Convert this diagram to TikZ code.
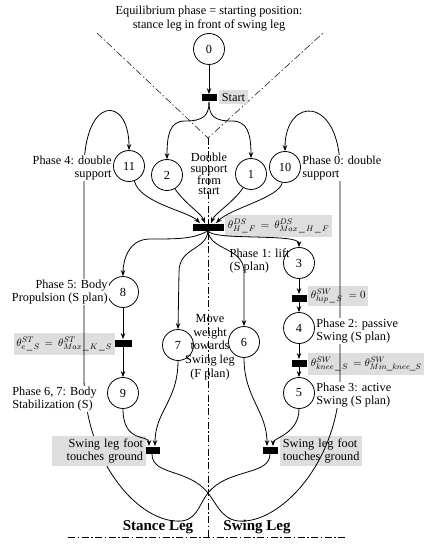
\documentclass[tikz,border=0pt]{standalone}
\usepackage{fontspec}
\setmainfont{Liberation Serif}
\usetikzlibrary{arrows.meta,positioning}
\newcommand*{\lblfont}{\fontsize{12.3}{13}\selectfont}
\newcommand*{\eqfont}{\fontsize{11}{12}\selectfont}

\begin{document}
\begin{tikzpicture}[
        x=1pt,y=-1pt,on grid,>={Stealth[length=6pt,width=4.5pt]},
        font=\lblfont, line width=0.8pt,
        place/.style={circle,draw,minimum size=31pt,inner sep=0pt},
        trans/.style={fill=black,minimum width=15pt,minimum height=7pt,inner sep=0pt},
        cond/.style={fill=black!13,inner sep=2.5pt},
        lbl/.style={fill=white,inner sep=1pt},
        axis/.style={line width=0.5pt,dash pattern=on 7pt off 2.5pt on 1.5pt off 2.5pt},
        ]
  \useasboundingbox (0,0) rectangle (430,545);

  \coordinate (v_tip) at (208,138);
  \draw[axis] (97,33) -- (v_tip) -- (323,33);
  \draw[axis] (v_tip) -- (208,537);
  \draw[axis] (68,537) -- (347,537);

  \node[cond,anchor=west] (c_start) at (219,97) {Start};
  \node[cond,anchor=west,font=\eqfont,inner ysep=4pt] (c_ds) at (225,226) {$\theta^{DS}_{H\,\_\,F}\,=\,\theta^{DS}_{Max\,\_\,H\,\_\,F}$};
  \node[cond,anchor=east,font=\eqfont,inner ysep=4pt] (c_st) at (115,344) {$\theta^{ST}_{e\,\_\,S}\,=\,\theta^{ST}_{Max\,\_\,K\,\_\,S}$};
  \node[cond,anchor=west,font=\eqfont] (c_hip) at (308,296) {$\theta^{SW}_{hip\,\_\,S}\;=0$};
  \node[cond,anchor=west,font=\eqfont,inner ysep=4pt] (c_knee) at (308,364) {$\theta^{SW}_{knee\,\_\,S}\,=\theta^{SW}_{Min\_knee\_S}$};
  \node[cond,anchor=west,text width=77pt,align=left] (c_r) at (280,451) {Swing leg foot\\touches ground};

  \node[place] (p_0) at (209,49) {0};
  \node[place] (p_11) at (129,166) {11};
  \node[place] (p_2) at (167,175) {2};
  \node[place] (p_1) at (251,174) {1};
  \node[place] (p_10) at (285,167) {10};
  \node[place] (p_3) at (299,263) {3};
  \node[place] (p_8) at (123,292) {8};
  \node[place] (p_7) at (178,345) {7};
  \node[place] (p_6) at (244,342) {6};

  \node[trans] (t_start) at (209,98) {};
  \node[trans,minimum width=31pt] (t_ds) at (208,227) {};
  \node[trans,minimum width=17pt,below=51pt of p_8] (t_8) {};
  \node[place,below=50pt of t_8] (p_9) {9};
  \node[trans,below=35pt of p_3] (t_hip) {};
  \node[place,below=30pt of t_hip] (p_4) {4};
  \node[trans,below=35pt of p_4] (t_knee) {};
  \node[place,below=30pt of t_knee] (p_5) {5};
  \node[trans] (t_l) at (152,450) {};
  \node[trans] (t_r) at (270,450) {};

  \draw[->] (t_r.south) .. controls +(0,22) and +(20,-25) .. (208,493)
     .. controls +(-10,12.5) and +(22,2) .. (175,521)
     .. controls +(-40,-3) and +(2,80) .. (84,380) -- (84,170)
     .. controls +(0,-75) and +(0,-55) .. (p_11.north);
  \draw[->] (t_l.south) .. controls +(0,22) and +(-20,-25) .. (208,493)
     .. controls +(10,12.5) and +(-22,2) .. (245,521)
     .. controls +(40,-3) and +(-2,80) .. (340,380) -- (340,170)
     .. controls +(0,-75) and +(0,-55) .. (p_10.north);

  \node[cond,anchor=east,text width=89pt,align=right] (c_l) at (146,451) {Swing leg foot\\touches ground};

  \draw[->] (p_0) -- (t_start);
  \draw[->] (t_start.south) .. controls +(0,14) and +(18,0) .. (185,121)
     .. controls +(-15,0) and +(0,-25) .. (p_2.north);
  \draw[->] (t_start.south) .. controls +(0,14) and +(-18,0) .. (232,121)
     .. controls +(15,0) and +(0,-25) .. (p_1.north);

  \draw[->] (p_11.-70) .. controls +(5,22) and +(-12,-12) .. ([xshift=-8pt]t_ds.north);
  \draw[->] (p_2.-60) .. controls +(10,15) and +(-4,-10) .. ([xshift=-3pt]t_ds.north);
  \draw[->] (p_1.-120) .. controls +(-10,15) and +(4,-10) .. ([xshift=3pt]t_ds.north);
  \draw[->] (p_10.-100) .. controls +(-3,15) and +(15,-15) .. ([xshift=8pt]t_ds.north);

  \draw[->] (t_ds.south) .. controls +(5,10) and +(0,-14) .. (p_3.north);
  \draw[->] (t_ds.south) .. controls +(-15,8) and +(30,0) .. (150,239)
     .. controls +(-22,0) and +(0,-15) .. (p_8.north);
  \draw[->] (t_ds.south) .. controls +(-2,20) and +(0,-25) .. (179,272) -- (p_7.north);
  \draw[->] (t_ds.south) .. controls +(2,20) and +(0,-25) .. (244,272) -- (p_6.north);

  \draw[->] (p_8) -- (t_8);
  \draw[->] (t_8) -- (p_9);
  \draw[->] (p_3) -- (t_hip);
  \draw[->] (t_hip) -- (p_4);
  \draw[->] (p_4) -- (t_knee);
  \draw[->] (t_knee) -- (p_5);

  \draw[->] (p_9.south) .. controls +(0,35) and +(0,-12) .. ([xshift=-3pt]t_l.north);
  \draw[->] (p_7.south) .. controls +(0,40) and +(0,-35) .. ([xshift=3pt]t_l.north);
  \draw[->] (p_6.south) .. controls +(0,40) and +(0,-35) .. ([xshift=-3pt]t_r.north);
  \draw[->] (p_5.south) .. controls +(0,25) and +(0,-8) .. ([xshift=3pt]t_r.north);

  \node[align=center,font=\fontsize{12.3}{14}\selectfont] (title) at (209,19)
     {Equilibrium phase = starting position:\\stance leg in front of swing leg};
  \node[lbl,anchor=east,align=right] (l_11) at (113,168) {Phase 4: double\\support};
  \node[lbl,anchor=west,align=left] (l_10) at (301,168) {Phase 0: double\\support};
  \node[align=center,font=\fontsize{12.3}{10.5}\selectfont] (l_ds) at (209,174) {Double\\support\\from\\start};
  \node[anchor=west,align=left] (l_3) at (226,261) {Phase 1: lift\\(S plan)};
  \node[lbl,anchor=east,align=right] (l_8) at (109,292) {Phase 5: Body\\Propulsion (S plan)};
  \node[align=center,font=\fontsize{12.3}{13.7}\selectfont] (l_move) at (210,347)
     {Move\\weight\\towards\\Swing leg\\(F plan)};
  \node[lbl,anchor=west,align=left] (l_4) at (315,331) {Phase 2: passive\\Swing (S plan)};
  \node[lbl,anchor=west,align=left] (l_5) at (315,395) {Phase 3: active\\Swing (S plan)};
  \node[lbl,anchor=west,align=left] (l_9) at (11,399) {Phase 6, 7: Body\\Stabilization (S)};

  \node[font=\fontsize{15}{18}\selectfont\bfseries] (stance) at (158,527) {Stance Leg};
  \node[font=\fontsize{15}{18}\selectfont\bfseries] (swing) at (257,527) {Swing Leg};
\end{tikzpicture}
\end{document}
